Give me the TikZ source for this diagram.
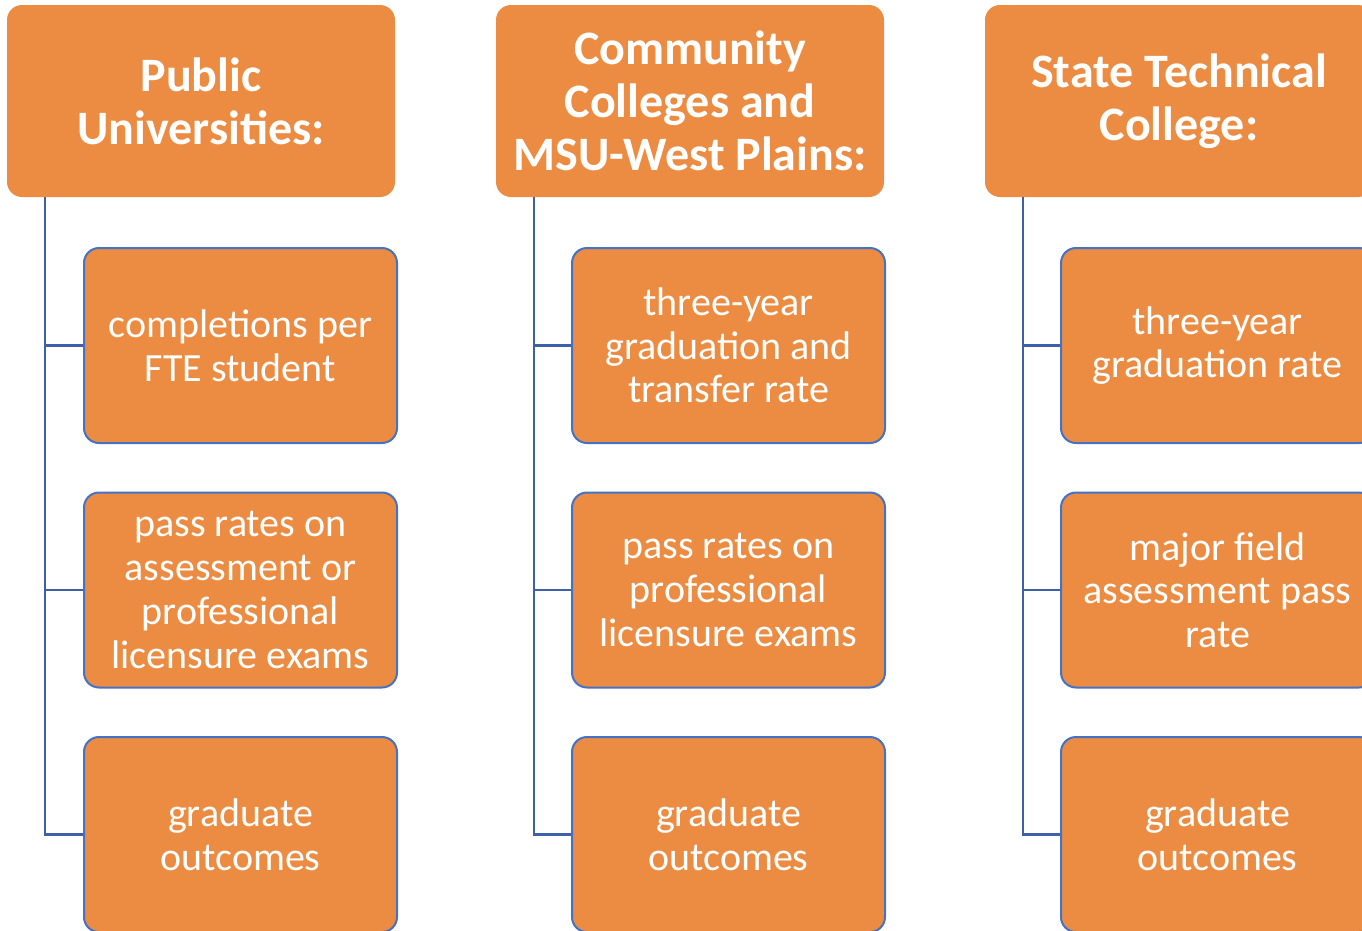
\documentclass[tikz,border=0pt]{standalone}
\usepackage{fontspec}
\setmainfont{Carlito}
\definecolor{boxorange}{RGB}{235,140,66}
\definecolor{boxblue}{RGB}{68,114,196}
\definecolor{linkblue}{RGB}{62,96,170}
\begin{document}
\begin{tikzpicture}[x=1pt,y=-1pt,
  header/.style={fill=boxorange, rounded corners=15pt, minimum width=388pt, minimum height=192pt,
    inner sep=0pt, text=white, align=center, font=\fontsize{48}{53}\selectfont\bfseries},
  child/.style={fill=boxorange, draw=boxblue, line width=2pt, rounded corners=15pt,
    minimum width=313pt, minimum height=195pt, inner sep=0pt, text=white, align=center,
    font=\fontsize{40}{43.7}\selectfont},
  link/.style={draw=linkblue, line width=2.5pt}]
\useasboundingbox (0,0) rectangle (1362,930);
\clip (0,0) rectangle (1362,930);
% headers
\node[header] (h1) at (201,101) {Public\\Universities:};
\node[header] (h2) at (690,101) {Community\\Colleges and\\MSU-West Plains:};
\node[header] (h3) at (1179,101) {State Technical\\College:};
% column 1
\node[child] (c11) at (240.5,345.5) {completions per\\FTE student};
\node[child] (c12) at (240.5,590) {pass rates on\\assessment or\\professional\\licensure exams};
\node[child] (c13) at (240.5,834.5) {graduate\\outcomes};
% column 2
\node[child] (c21) at (728.5,345.5) {three-year\\graduation and\\transfer rate};
\node[child] (c22) at (728.5,590) {pass rates on\\professional\\licensure exams};
\node[child] (c23) at (728.5,834.5) {graduate\\outcomes};
% column 3
\node[child] (c31) at (1217.5,345.5) {three-year\\graduation rate};
\node[child] (c32) at (1217.5,590) {major field\\assessment pass\\rate};
\node[child] (c33) at (1217.5,834.5) {graduate\\outcomes};
% connectors
\foreach \h/\a/\b/\c in {h1/c11/c12/c13, h2/c21/c22/c23, h3/c31/c32/c33}{
  \draw[link] ([xshift=38pt]\h.south west) |- (\a.west);
  \draw[link] ([xshift=38pt]\h.south west) |- (\b.west);
  \draw[link] ([xshift=38pt]\h.south west) |- (\c.west);
}
\end{tikzpicture}
\end{document}
